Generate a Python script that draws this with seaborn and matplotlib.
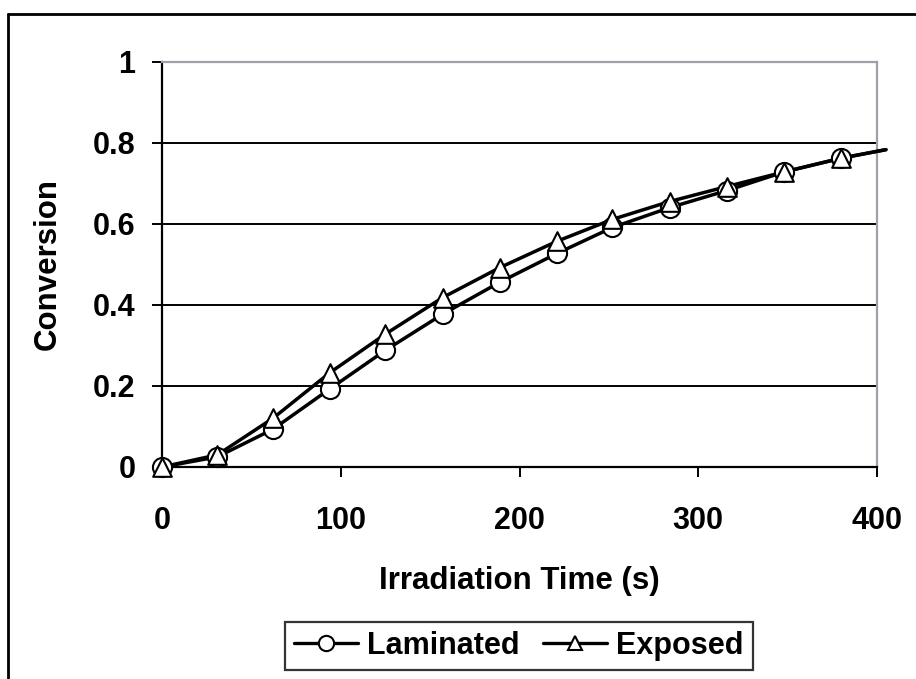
import matplotlib
matplotlib.use("Agg")
import matplotlib.pyplot as plt
import seaborn as sns
import pandas as pd
from matplotlib.lines import Line2D

# Data
time_s = [0, 31, 62, 94, 125, 157, 189, 221, 252, 284, 316, 348, 380]
laminated = [0.0, 0.025, 0.093, 0.193, 0.288, 0.377, 0.456, 0.527, 0.591, 0.640, 0.682, 0.728, 0.762]
exposed = [0.0, 0.030, 0.120, 0.233, 0.328, 0.418, 0.492, 0.557, 0.611, 0.655, 0.692, 0.728, 0.762]
# curve end (line continues past last marker)
end_time = 405
end_value = 0.783

x_ticks = [0, 100, 200, 300, 400]
y_ticks = [0, 0.2, 0.4, 0.6, 0.8, 1.0]
y_tick_labels = ["0", "0.2", "0.4", "0.6", "0.8", "1"]

sns.set_theme(style="white")
plt.rcParams['font.family'] = ['Liberation Sans', 'DejaVu Sans']
plt.rcParams['font.weight'] = 'bold'
plt.rcParams['text.color'] = 'black'
plt.rcParams['axes.labelcolor'] = 'black'
plt.rcParams['xtick.color'] = 'black'
plt.rcParams['ytick.color'] = 'black'

markers_df = pd.DataFrame({
    "time": time_s * 2,
    "conv": laminated + exposed,
    "series": ["Laminated"] * len(time_s) + ["Exposed"] * len(time_s),
})
lines_df = pd.DataFrame({
    "time": (time_s + [end_time]) * 2,
    "conv": laminated + [end_value] + exposed + [end_value],
    "series": ["Laminated"] * (len(time_s) + 1) + ["Exposed"] * (len(time_s) + 1),
})

fig = plt.figure(figsize=(9.16, 6.79), dpi=100)
ax = fig.add_axes([162/916, 1 - 467/679, (877-162)/916, (467-61.7)/679])

ax.set_xlim(0, 400)
ax.set_ylim(0, 1)

# gridlines
for yv in y_ticks[1:-1]:
    ax.axhline(yv, color="black", lw=1.4, zorder=1)

sns.lineplot(data=lines_df, x="time", y="conv", hue="series",
             palette={"Laminated": "black", "Exposed": "black"},
             linewidth=2.5, legend=False, ax=ax, zorder=3,
             sort=False, estimator=None)
for ln in ax.lines:
    ln.set_clip_on(False)

lam = markers_df[markers_df.series == "Laminated"]
exp_ = markers_df[markers_df.series == "Exposed"]
sns.scatterplot(data=lam, x="time", y="conv", marker="o", s=190,
                facecolor="white", edgecolor="black", linewidth=1.5,
                ax=ax, zorder=4, legend=False, clip_on=False)
sns.scatterplot(data=exp_, x="time", y="conv", marker="^", s=180,
                facecolor="white", edgecolor="black", linewidth=1.5,
                ax=ax, zorder=5, legend=False, clip_on=False)

ax.set_xticks(x_ticks)
ax.set_yticks(y_ticks)
ax.set_yticklabels(y_tick_labels)
ax.tick_params(axis="both", direction="out", length=7, width=1.4,
               color="black", labelcolor="black", labelsize=22,
               bottom=True, left=True)
ax.tick_params(axis="x", pad=21)
ax.tick_params(axis="y", pad=12)
for lbl in ax.get_xticklabels() + ax.get_yticklabels():
    lbl.set_fontweight("bold")

ax.set_xlabel("Irradiation Time (s)", fontsize=22.5, fontweight="bold",
              labelpad=22, color="black")
ax.set_ylabel("Conversion", fontsize=22.5, fontweight="bold",
              labelpad=22, color="black")

for side in ["left", "bottom"]:
    ax.spines[side].set_color("black")
    ax.spines[side].set_linewidth(1.6)
for side in ["top", "right"]:
    ax.spines[side].set_color("#a0a0a8")
    ax.spines[side].set_linewidth(1.6)

handles = [
    Line2D([0], [0], color="black", lw=2.4, marker="o", markersize=11,
           markerfacecolor="white", markeredgecolor="black", markeredgewidth=1.5),
    Line2D([0], [0], color="black", lw=2.4, marker="^", markersize=10,
           markerfacecolor="white", markeredgecolor="black", markeredgewidth=1.5),
]
leg = fig.legend(handles, ["Laminated", "Exposed"], loc="center",
                 bbox_to_anchor=(519/916, 1 - 646/679), ncol=2, frameon=True,
                 fancybox=False, edgecolor="black",
                 prop={"weight": "bold", "size": 22}, handlelength=2.1,
                 handletextpad=0.3, columnspacing=0.75, borderpad=0.3,
                 borderaxespad=0)
leg.get_frame().set_linewidth(1.6)
for t in leg.get_texts():
    t.set_color("black")

# outer frame (left and top edges visible)
fig.add_artist(Line2D([8/916, 8/916], [0, 1 - 13.5/679], color="black", lw=2.0,
                      transform=fig.transFigure))
fig.add_artist(Line2D([8/916, 1], [1 - 13.5/679, 1 - 13.5/679], color="black", lw=2.0,
                      transform=fig.transFigure))

fig.savefig("out.png", dpi=100)
